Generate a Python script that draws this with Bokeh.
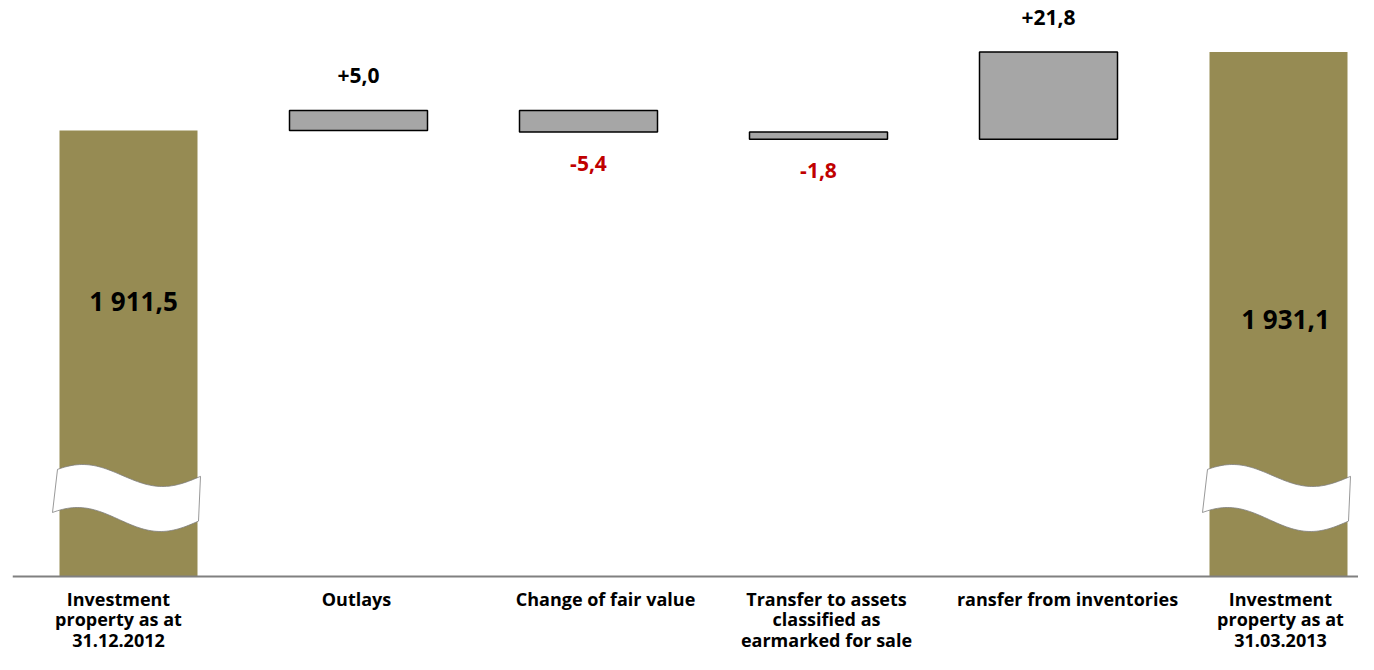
import numpy as np
from bokeh.plotting import figure
from bokeh.models import ColumnDataSource, Span
from bokeh.core.properties import value
from bokeh.embed import file_html
from bokeh.resources import INLINE

# ---- data ----
categories = ["Investment\nproperty as at\n31.12.2012", "Outlays", "Change of fair value",
              "Transfer to assets\nclassified as\nearmarked for sale", "ransfer from inventories",
              "Investment\nproperty as at\n31.03.2013"]
start_value = 1911.5
deltas = [5.0, -5.4, -1.8, 21.8]
end_value = 1931.1
delta_labels = ["+5,0", "-5,4", "-1,8", "+21,8"]
total_labels = ["1 911,5", "1 931,1"]
axis_floor = 1800.0

# ---- styles ----
GOLD = "#968B53"
GREY = "#A6A6A6"
RED = "#C00000"
FONT = value("Open Sans")
PX_X = 230.0   # px per category
PX_Y = 4.0     # px per unit
BASE_PX = 576  # baseline position from top

W, H = 1358, 654
LEFT = 12
p = figure(width=W, height=H, output_backend="svg", toolbar_location=None,
           x_axis_type=None, y_axis_type=None,
           x_range=(-(128 - LEFT) / PX_X, -(128 - LEFT) / PX_X + (W - LEFT) / PX_X),
           y_range=(axis_floor - (H - BASE_PX) / PX_Y, axis_floor + BASE_PX / PX_Y),
           min_border_left=LEFT, min_border_right=0, min_border_top=0, min_border_bottom=0)
p.grid.visible = False
p.outline_line_color = None
p.background_fill_color = "white"

# totals
tot_x = [0, len(categories) - 1]
tot_top = [start_value, end_value]
p.vbar(x=tot_x, width=0.6, bottom=axis_floor, top=tot_top, fill_color=GOLD, line_color=None)

# deltas
run = start_value
dx, db, dt = [], [], []
for i, d in enumerate(deltas):
    dx.append(i + 1)
    db.append(min(run, run + d))
    dt.append(max(run, run + d))
    run += d
p.vbar(x=dx, width=0.6, bottom=db, top=dt, fill_color=GREY, line_color="black", line_width=1.5)

# baseline
p.add_layout(Span(location=axis_floor, dimension="width", line_color="#808080", line_width=2))

# wave breaks drawn over total bars (decoration relative to bar centre)
def wave(cx):
    u1 = np.linspace(-71, 72, 60)
    top = 475 - 11 * np.cos(2 * np.pi * (u1 + 46) / 160)
    u2 = np.linspace(70, -76, 60)
    bot = 519 - 12 * np.cos(2 * np.pi * (u2 + 51) / 166)
    xs = np.concatenate([u1, u2]) / PX_X + cx
    ys = axis_floor + (BASE_PX - np.concatenate([top, bot])) / PX_Y
    return list(xs), list(ys)

wx, wy = [], []
for cx in tot_x:
    a, b = wave(cx)
    wx.append(a); wy.append(b)
p.patches(xs=wx, ys=wy, fill_color="white", line_color="#7F7F7F", line_width=0.8)

# delta labels
lab_y, lab_off, lab_col = [], [], []
for d, b, t in zip(deltas, db, dt):
    if d >= 0:
        lab_y.append(t); lab_off.append(-35); lab_col.append("black")
    else:
        lab_y.append(b); lab_off.append(31); lab_col.append(RED)
p.text(x=dx, y=lab_y, text=delta_labels, y_offset=lab_off, text_color=lab_col,
       text_align="center", text_baseline="middle", text_font=FONT,
       text_font_style="bold", text_font_size="21px")

# total labels
p.text(x=tot_x, y=[axis_floor, axis_floor], text=total_labels, x_offset=[5, 7], y_offset=[-276, -258],
       text_color="black", text_align="center", text_baseline="middle", text_font=FONT,
       text_font_style="bold", text_font_size="26px")

# category labels
cat_src = ColumnDataSource(dict(x=list(range(len(categories))), y=[axis_floor] * len(categories),
                                t=categories, xo=[-10, -2, 17, 8, 19, 2]))
p.text(x="x", y="y", text="t", x_offset="xo", y_offset=10, source=cat_src,
       text_color="black", text_align="center", text_baseline="top", text_font=FONT,
       text_font_style="bold", text_font_size="18px", text_line_height=0.86)

open("out.html", "w").write(file_html(p, INLINE))
